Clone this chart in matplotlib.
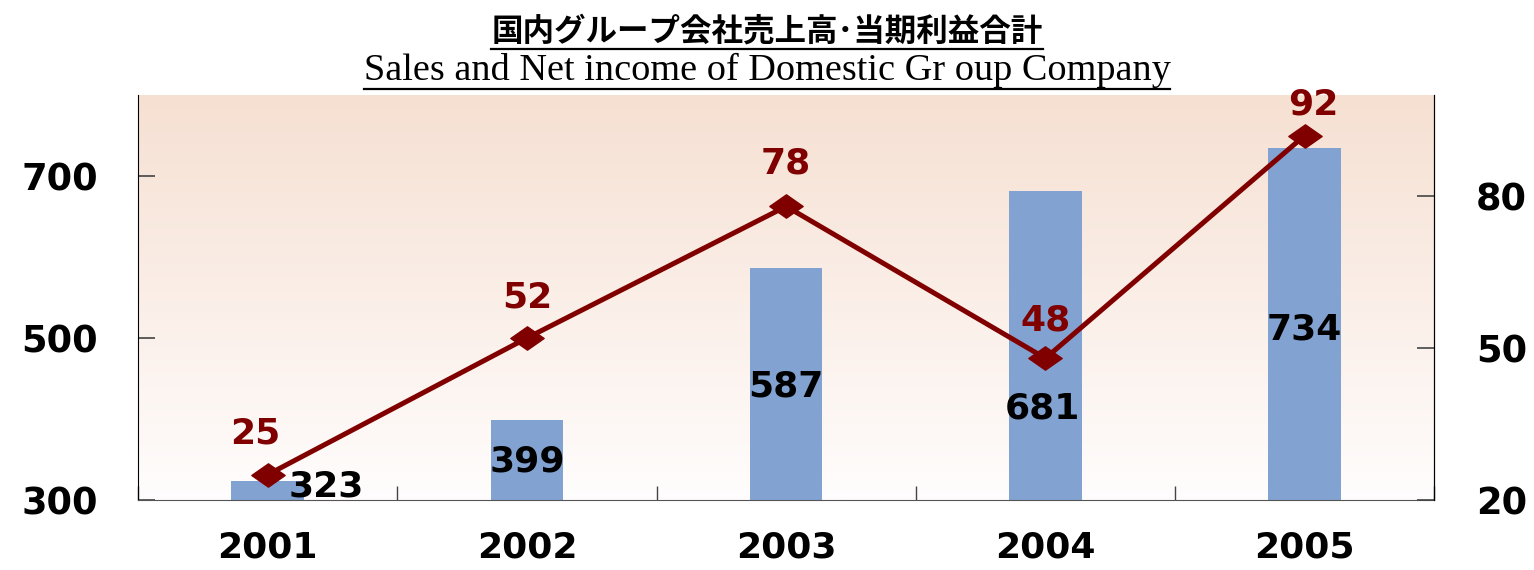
import numpy as np
import matplotlib
matplotlib.use("Agg")
from matplotlib import pyplot as plt
from matplotlib.path import Path
from matplotlib.lines import Line2D

years = ["2001", "2002", "2003", "2004", "2005"]
sales = [323, 399, 587, 681, 734]
net_income = [25, 52, 78, 48, 92]

title_jp = "国内グループ会社売上高･当期利益合計"
title_en = "Sales and Net income of Domestic Gr oup Company"

# label offsets in points (hand placed like the original)
sales_offsets = [(42, -4), (0, -30), (0, -86), (-2, -156), (0, -130)]
income_offsets = [(-9, 30), (0, 29), (0, 31), (0, 27), (6, 22)]

bar_color = "#82A3D1"
line_color = "#800000"

fig = plt.figure(figsize=(15.34, 5.70), dpi=100)
ax = fig.add_axes([0.09, 0.1228, 0.845, 0.7105])
ax2 = ax.twinx()

# background gradient (peach at top fading to white)
top = np.array([246, 224, 210]) / 255.0
bot = np.array([255, 253, 253]) / 255.0
t = np.linspace(0, 1, 256)[:, None]
grad = (top * (1 - t) + bot * t)[:, None, :]
ax.imshow(grad, extent=[0, 1, 0, 1], transform=ax.transAxes, aspect="auto",
          zorder=0, interpolation="bilinear")

x = np.arange(len(years))
ax.bar(x, sales, width=0.28, color=bar_color, zorder=2)
ax.set_xlim(-0.5, 4.5)
ax.set_ylim(300, 800)
ax.set_yticks([300, 500, 700])
ax.set_xticks(x)
ax.set_xticklabels(years)
ax.set_xticks(np.arange(-0.5, 5, 1.0), minor=True)

for xi, v, off in zip(x, sales, sales_offsets):
    ax.annotate(str(v), (xi, v), xytext=off, textcoords="offset points",
                ha="center", va="center", fontsize=26, fontweight="bold",
                color="black", zorder=5)

diamond = Path([(-1, 0), (0, 0.7), (1, 0), (0, -0.7), (-1, 0)],
               [Path.MOVETO, Path.LINETO, Path.LINETO, Path.LINETO, Path.CLOSEPOLY])
ax2.plot(x, net_income, color=line_color, lw=3.6, marker=diamond,
         markersize=24, zorder=4)
ax2.set_ylim(20, 100)
ax2.set_yticks([20, 50, 80])
for xi, v, off in zip(x, net_income, income_offsets):
    ax2.annotate(str(v), (xi, v), xytext=off, textcoords="offset points",
                 ha="center", va="center", fontsize=26, fontweight="bold",
                 color=line_color, zorder=5)

for a in (ax, ax2):
    a.spines["top"].set_visible(False)
    a.patch.set_visible(False)
ax.spines["left"].set_color("black")
ax.spines["bottom"].set_color("#555555")
ax2.spines["right"].set_color("black")
ax2.spines["left"].set_visible(False)
ax2.spines["bottom"].set_visible(False)
ax.set_zorder(1)
ax2.set_zorder(2)

ax.tick_params(axis="y", direction="in", length=12, width=1.2, color="#444444",
               pad=29, labelsize=26.5)
ax2.tick_params(axis="y", direction="in", length=12, width=1.2, color="#444444",
                pad=30, labelsize=26.5)
ax.tick_params(axis="x", which="major", length=0, pad=22, labelsize=26)
ax.tick_params(axis="x", which="minor", direction="in", length=10, width=1,
               color="#444444")
for lab in ax.get_yticklabels() + ax2.get_yticklabels() + ax.get_xticklabels():
    lab.set_fontweight("bold")

# titles with underline
t1 = fig.text(0.5, 0.945, title_jp, ha="center", va="center", fontsize=22.7,
              fontweight="bold", family=["Noto Sans CJK JP", "DejaVu Sans"])
t2 = fig.text(0.5, 0.877, title_en, ha="center", va="center", fontsize=27.5,
              family=["Liberation Serif"])
fig.canvas.draw()
r = fig.canvas.get_renderer()
for tx, gap in ((t1, 2), (t2, 1)):
    bb = tx.get_window_extent(r)
    y = (bb.y0 - gap) / fig.bbox.height
    fig.add_artist(Line2D([bb.x0 / fig.bbox.width, bb.x1 / fig.bbox.width], [y, y],
                          color="black", lw=1.6, transform=fig.transFigure))

fig.savefig("out.png", dpi=100)
